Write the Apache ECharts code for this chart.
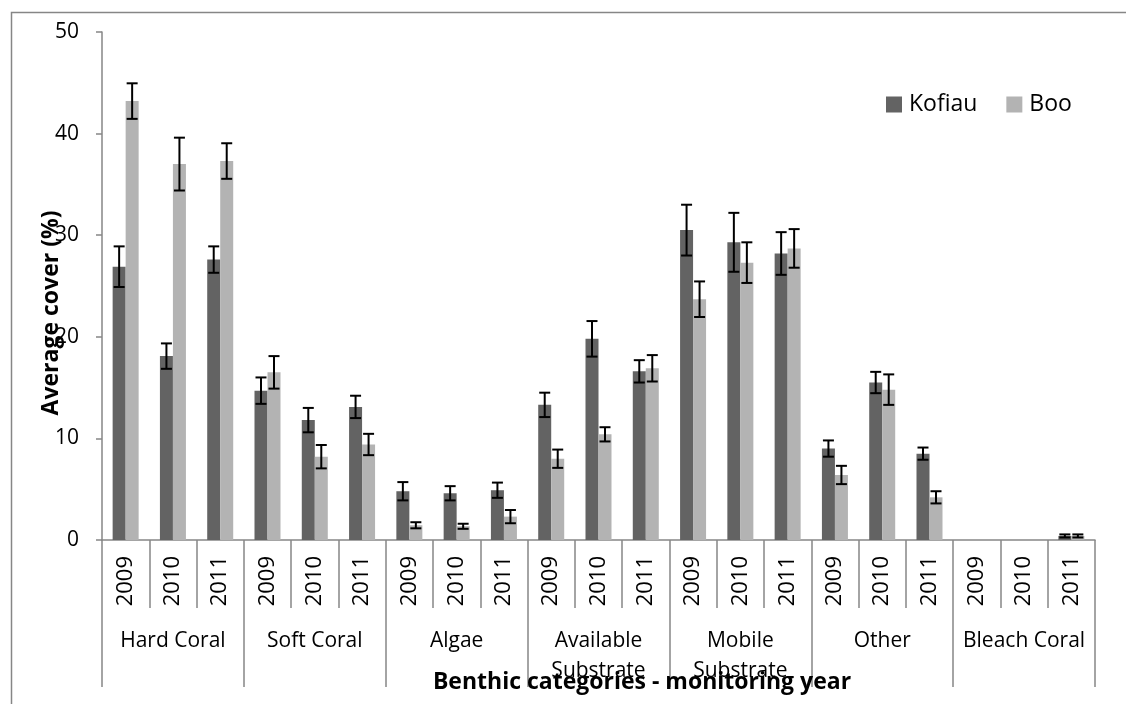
<!DOCTYPE html>
<html>
<head>
<meta charset="utf-8">
<script src="https://cdn.jsdelivr.net/npm/echarts@6/dist/echarts.min.js"></script>
<style>
  html, body { margin: 0; padding: 0; background: #ffffff; }
  #chart { width: 1126px; height: 704px; }
</style>
</head>
<body>
<div id="chart"></div>
<script>
// ---- data ----
const groups = ['Hard Coral', 'Soft Coral', 'Algae', 'Available\nSubstrate', 'Mobile\nSubstrate', 'Other', 'Bleach Coral'];
const years = ['2009', '2010', '2011'];
const kofiau = [26.9, 18.1, 27.6, 14.7, 11.8, 13.1, 4.8, 4.6, 4.9, 13.3, 19.8, 16.6, 30.5, 29.3, 28.2, 9.0, 15.5, 8.5, 0, 0, 0.4];
const boo    = [43.2, 37.0, 37.3, 16.5, 8.2, 9.4, 1.45, 1.35, 2.3, 8.0, 10.4, 16.9, 23.7, 27.3, 28.7, 6.4, 14.8, 4.2, 0, 0, 0.4];
const kofiauErr = [2.0, 1.25, 1.3, 1.3, 1.2, 1.1, 0.9, 0.7, 0.75, 1.2, 1.75, 1.1, 2.5, 2.9, 2.1, 0.8, 1.05, 0.6, 0, 0, 0.15];
const booErr    = [1.75, 2.6, 1.75, 1.6, 1.15, 1.05, 0.3, 0.25, 0.65, 0.9, 0.7, 1.3, 1.75, 2.0, 1.9, 0.9, 1.5, 0.6, 0, 0, 0.15];
const yTicks = [0, 10, 20, 30, 40, 50];

// ---- build ----
const yearCats = [];
groups.forEach(() => years.forEach(y => yearCats.push(y)));

const FONT = '"Open Sans", "Noto Sans", sans-serif';
const GREY = '#868686';
const BAR_W = 13;

function errData(vals, errs) {
  return vals.map((v, i) => [i, v, errs[i]]);
}
function errRender(offset) {
  return function (params, api) {
    const i = api.value(0), v = api.value(1), e = api.value(2);
    if (!e) return null;
    const c = api.coord([i, v]);
    const x = c[0] + offset;
    const yTop = api.coord([i, v + e])[1];
    const yBot = api.coord([i, Math.max(v - e, 0)])[1];
    const hw = 5.5;
    const style = { stroke: '#000', lineWidth: 2 };
    return {
      type: 'group',
      children: [
        { type: 'line', shape: { x1: x, y1: yTop, x2: x, y2: yBot }, style },
        { type: 'line', shape: { x1: x - hw, y1: yTop, x2: x + hw, y2: yTop }, style },
        { type: 'line', shape: { x1: x - hw, y1: yBot, x2: x + hw, y2: yBot }, style }
      ]
    };
  };
}

const chart = echarts.init(document.getElementById('chart'), null, { renderer: 'canvas' });
chart.setOption({
  animation: false,
  backgroundColor: '#ffffff',
  textStyle: { fontFamily: FONT },
  grid: { left: 102, right: 31, top: 32, bottom: 164, containLabel: false },
  legend: {
    left: 886, top: 93,
    itemWidth: 16, itemHeight: 16, itemGap: 29,
    padding: 0,
    icon: 'rect',
    textStyle: { fontFamily: FONT, fontSize: 23, color: '#000', padding: [0, 0, 0, 2] },
    data: ['Kofiau', 'Boo']
  },
  xAxis: [
    {
      type: 'category',
      data: yearCats,
      position: 'bottom',
      axisLine: { show: true, lineStyle: { color: GREY, width: 1.5 } },
      axisTick: { show: true, length: 68, lineStyle: { color: GREY, width: 1.5 } },
      axisLabel: { rotate: 90, interval: 0, margin: 16, fontFamily: FONT, fontSize: 22, color: '#000' },
      splitLine: { show: false }
    },
    {
      type: 'category',
      data: groups,
      position: 'bottom',
      axisLine: { show: false },
      axisTick: { show: true, length: 147, lineStyle: { color: GREY, width: 1.5 } },
      axisLabel: { interval: 0, margin: 86, fontFamily: FONT, fontSize: 21, lineHeight: 30, color: '#000' },
      splitLine: { show: false }
    }
  ],
  yAxis: {
    type: 'value',
    min: yTicks[0], max: yTicks[yTicks.length - 1], interval: 10,
    axisLine: { show: true, lineStyle: { color: GREY, width: 1.5 } },
    axisTick: { show: true, inside: false, length: 6, lineStyle: { color: GREY, width: 1.5 } },
    axisLabel: { margin: 23, fontFamily: FONT, fontSize: 21, color: '#000' },
    splitLine: { show: false }
  },
  series: [
    {
      name: 'Kofiau', type: 'bar', data: kofiau, barWidth: BAR_W, barGap: '0%',
      itemStyle: { color: '#636363' }, z: 2
    },
    {
      name: 'Boo', type: 'bar', data: boo, barWidth: BAR_W, barGap: '0%',
      itemStyle: { color: '#b3b3b3' }, z: 2
    },
    {
      type: 'custom', name: 'KofiauErr', data: errData(kofiau, kofiauErr),
      renderItem: errRender(-BAR_W / 2), z: 5, silent: true
    },
    {
      type: 'custom', name: 'BooErr', data: errData(boo, booErr),
      renderItem: errRender(BAR_W / 2), z: 5, silent: true
    }
  ],
  graphic: [
    {
      type: 'rect', left: 9, top: 10, silent: true,
      shape: { x: 0, y: 0, width: 1300, height: 900 },
      style: { fill: 'none', stroke: GREY, lineWidth: 1.5 }, z: 0
    },
    {
      type: 'text', x: 51, y: 313, rotation: Math.PI / 2,
      style: {
        text: 'Average cover (%)', fontFamily: FONT, fontSize: 23, fontWeight: 'bold',
        fill: '#000', textAlign: 'center', textVerticalAlign: 'middle'
      }, z: 10
    },
    {
      type: 'text', x: 642, y: 682,
      style: {
        text: 'Benthic categories - monitoring year', fontFamily: FONT, fontSize: 23, fontWeight: 'bold',
        fill: '#000', textAlign: 'center', textVerticalAlign: 'middle'
      }, z: 10
    }
  ]
});
</script>
</body>
</html>
